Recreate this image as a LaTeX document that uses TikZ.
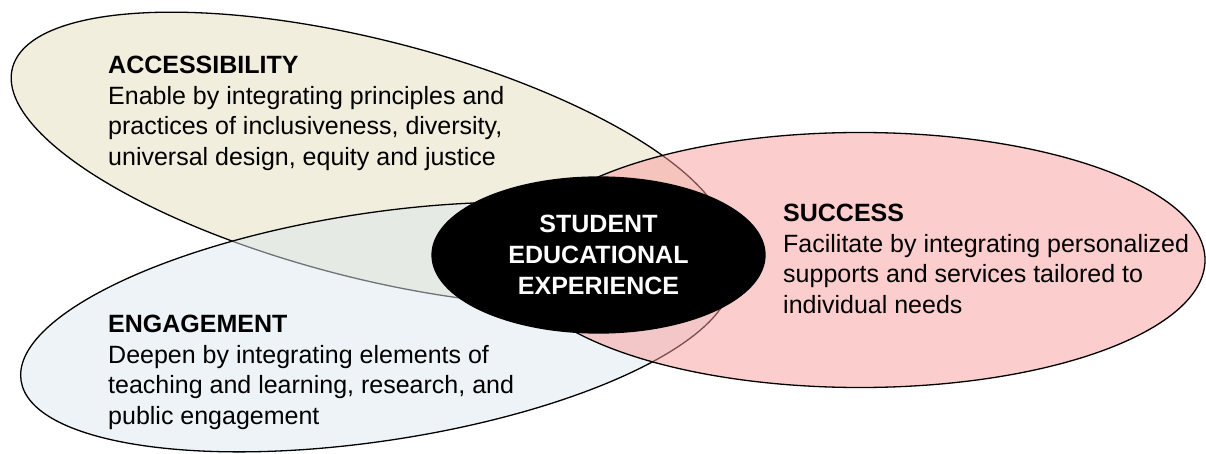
\documentclass[tikz,border=0pt]{standalone}
\usepackage{fontspec}
\setmainfont{Liberation Sans}
\usetikzlibrary{shapes.geometric}
\definecolor{accfill}{RGB}{242,238,222}
\definecolor{engfill}{RGB}{219,231,237}
\definecolor{sucfill}{RGB}{249,155,155}
\tikzset{
  zone/.style={ellipse, draw=black, line width=1.3pt, inner sep=0pt},
  blocktext/.style={anchor=north west, align=left, inner sep=0pt,
    font=\fontsize{25}{30.5}\selectfont, text=black},
  coretext/.style={align=center, text=white, inner sep=0pt,
    font=\bfseries\fontsize{25}{31}\selectfont}
}
\begin{document}
\begin{tikzpicture}[x=1pt,y=1pt]
\useasboundingbox (0,0) rectangle (1206,453);
% regions, bottom to top
\node[zone, fill=accfill, minimum width=736pt, minimum height=238pt, rotate=-14.3] (acc) at (369,294) {};
\node[zone, fill=engfill, fill opacity=0.5, minimum width=718pt, minimum height=228pt, rotate=8.6] (eng) at (376,126) {};
\node[zone, fill=sucfill, fill opacity=0.5, minimum width=690pt, minimum height=255pt] (suc) at (860,193) {};
\node[zone, fill=black, minimum width=333pt, minimum height=156pt] (core) at (598.5,198) {};
% texts
\node[coretext] (coretxt) at (core.center) {STUDENT\\EDUCATIONAL\\EXPERIENCE};
\node[blocktext] (acctxt) at (108,397) {\textbf{ACCESSIBILITY}\\Enable by integrating principles and\\practices of inclusiveness, diversity,\\universal design, equity and justice};
\node[blocktext] (suctxt) at (783,249) {\textbf{SUCCESS}\\Facilitate by integrating personalized\\supports and services tailored to\\individual needs};
\node[blocktext] (engtxt) at (108,138) {\textbf{ENGAGEMENT}\\Deepen by integrating elements of\\teaching and learning, research, and\\public engagement};
\end{tikzpicture}
\end{document}
